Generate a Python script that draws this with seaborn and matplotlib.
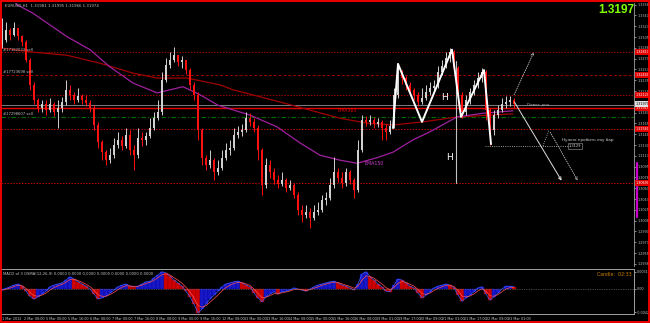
import numpy as np
import pandas as pd
import matplotlib
matplotlib.use("Agg")
import matplotlib.pyplot as plt
import seaborn as sns
from matplotlib.patches import Rectangle
from matplotlib.transforms import blended_transform_factory

# ---------------- data (EURUSD, H1-ish bars) ----------------
first_open = 1.3293
close = [1.3301, 1.3317, 1.3309, 1.3320, 1.3307, 1.3297, 1.3268, 1.3228, 1.3204, 1.3191,
         1.3197, 1.3187, 1.3197, 1.3184, 1.3191, 1.3200, 1.3220, 1.3212, 1.3204, 1.3210,
         1.3204, 1.3199, 1.3191, 1.3163, 1.3135, 1.3119, 1.3106, 1.3114, 1.3131, 1.3139,
         1.3129, 1.3147, 1.3123, 1.3114, 1.3142, 1.3139, 1.3145, 1.3158, 1.3174, 1.3184,
         1.3236, 1.3260, 1.3268, 1.3276, 1.3265, 1.3268, 1.3252, 1.3228, 1.3212, 1.3155,
         1.3110, 1.3098, 1.3106, 1.3087, 1.3093, 1.3110, 1.3123, 1.3126, 1.3147, 1.3152,
         1.3155, 1.3174, 1.3168, 1.3158, 1.3123, 1.3066, 1.3098, 1.3087, 1.3074, 1.3067,
         1.3074, 1.3061, 1.3066, 1.3050, 1.3025, 1.3017, 1.3022, 1.3012, 1.3022, 1.3025,
         1.3041, 1.3045, 1.3066, 1.3087, 1.3077, 1.3069, 1.3087, 1.3074, 1.3058, 1.3123,
         1.3171, 1.3168, 1.3171, 1.3165, 1.3168, 1.3158, 1.3152, 1.3161, 1.3212, 1.3249,
         1.3239, 1.3228, 1.3220, 1.3212, 1.3200, 1.3207, 1.3216, 1.3223, 1.3226, 1.3249,
         1.3259, 1.3272, 1.3281, 1.3255, 1.3212, 1.3184, 1.3204, 1.3216, 1.3228, 1.3239,
         1.3249, 1.3187, 1.3155, 1.3179, 1.3187, 1.3197, 1.3200, 1.3204, 1.3197]
high = [1.3336, 1.3330, 1.3320, 1.3330, 1.3317, 1.3309, 1.3301, 1.3272, 1.3233, 1.3207,
        1.3204, 1.3204, 1.3207, 1.3200, 1.3204, 1.3208, 1.3236, 1.3228, 1.3216, 1.3223,
        1.3213, 1.3212, 1.3204, 1.3195, 1.3168, 1.3139, 1.3123, 1.3126, 1.3142, 1.3152,
        1.3145, 1.3158, 1.3155, 1.3131, 1.3158, 1.3152, 1.3152, 1.3174, 1.3184, 1.3204,
        1.3249, 1.3272, 1.3281, 1.3289, 1.3276, 1.3275, 1.3268, 1.3255, 1.3233, 1.3216,
        1.3158, 1.3114, 1.3123, 1.3110, 1.3106, 1.3123, 1.3134, 1.3139, 1.3158, 1.3161,
        1.3165, 1.3184, 1.3182, 1.3174, 1.3163, 1.3126, 1.3110, 1.3106, 1.3093, 1.3082,
        1.3087, 1.3077, 1.3074, 1.3069, 1.3054, 1.3033, 1.3033, 1.3029, 1.3033, 1.3038,
        1.3050, 1.3054, 1.3077, 1.3111, 1.3093, 1.3087, 1.3093, 1.3090, 1.3077, 1.3139,
        1.3179, 1.3178, 1.3179, 1.3176, 1.3174, 1.3171, 1.3165, 1.3171, 1.3223, 1.3259,
        1.3252, 1.3242, 1.3233, 1.3223, 1.3216, 1.3223, 1.3228, 1.3233, 1.3236, 1.3259,
        1.3268, 1.3281, 1.3288, 1.3285, 1.3259, 1.3216, 1.3212, 1.3223, 1.3236, 1.3249,
        1.3255, 1.3252, 1.3191, 1.3187, 1.3195, 1.3207, 1.3210, 1.3210, 1.3207]
low = [1.3288, 1.3297, 1.3301, 1.3307, 1.3301, 1.3291, 1.3265, 1.3220, 1.3197, 1.3184,
       1.3184, 1.3179, 1.3184, 1.3178, 1.3158, 1.3184, 1.3195, 1.3204, 1.3197, 1.3200,
       1.3197, 1.3194, 1.3184, 1.3155, 1.3126, 1.3106, 1.3098, 1.3101, 1.3110, 1.3126,
       1.3123, 1.3126, 1.3114, 1.3090, 1.3110, 1.3129, 1.3131, 1.3142, 1.3155, 1.3171,
       1.3179, 1.3233, 1.3255, 1.3265, 1.3259, 1.3255, 1.3246, 1.3220, 1.3204, 1.3139,
       1.3098, 1.3090, 1.3093, 1.3074, 1.3082, 1.3090, 1.3106, 1.3114, 1.3123, 1.3142,
       1.3145, 1.3152, 1.3161, 1.3152, 1.3106, 1.3050, 1.3061, 1.3077, 1.3067, 1.3061,
       1.3064, 1.3054, 1.3058, 1.3045, 1.3017, 1.3006, 1.3012, 1.2996, 1.3009, 1.3017,
       1.3022, 1.3033, 1.3041, 1.3061, 1.3071, 1.3061, 1.3064, 1.3067, 1.3045, 1.3054,
       1.3119, 1.3161, 1.3163, 1.3158, 1.3160, 1.3139, 1.3139, 1.3148, 1.3158, 1.3207,
       1.3229, 1.3220, 1.3212, 1.3204, 1.3194, 1.3197, 1.3204, 1.3212, 1.3216, 1.3223,
       1.3244, 1.3255, 1.3265, 1.3249, 1.3195, 1.3174, 1.3179, 1.3197, 1.3212, 1.3223,
       1.3233, 1.3171, 1.3131, 1.3147, 1.3174, 1.3184, 1.3191, 1.3194, 1.3191]
macd = [-0.0002, 0.0001, 0.0004, 0.0007, 0.0009, 0.0005, -0.0004, -0.0013, -0.0018, -0.0014,
        -0.0009, -0.0004, 0.0004, 0.0007, 0.0009, 0.0011, 0.0016, 0.0022, 0.0018, 0.0013,
        0.0009, 0.0005, 0.0000, -0.0009, -0.0018, -0.0016, -0.0013, -0.0007, -0.0002, 0.0004,
        0.0007, 0.0009, 0.0005, 0.0004, 0.0005, 0.0009, 0.0013, 0.0014, 0.0020, 0.0025,
        0.0031, 0.0029, 0.0023, 0.0016, 0.0011, 0.0005, -0.0004, -0.0014, -0.0027, -0.0043,
        -0.0036, -0.0027, -0.0018, -0.0011, -0.0004, 0.0004, 0.0009, 0.0011, 0.0013, 0.0014,
        0.0011, 0.0007, 0.0004, -0.0007, -0.0016, -0.0023, -0.0014, -0.0009, -0.0005, -0.0009,
        -0.0005, -0.0004, -0.0002, 0.0002, 0.0000, -0.0002, -0.0004, 0.0000, 0.0004, 0.0007,
        0.0009, 0.0011, 0.0013, 0.0014, 0.0011, 0.0007, 0.0005, 0.0002, -0.0002, 0.0009,
        0.0027, 0.0031, 0.0022, 0.0016, 0.0009, 0.0004, -0.0004, -0.0005, 0.0007, 0.0018,
        0.0016, 0.0011, 0.0005, 0.0002, -0.0007, -0.0016, -0.0011, -0.0005, 0.0002, 0.0005,
        0.0007, 0.0009, 0.0007, 0.0002, -0.0011, -0.0022, -0.0016, -0.0011, -0.0005, 0.0002,
        0.0004, -0.0009, -0.0020, -0.0014, -0.0007, 0.0000, 0.0005, 0.0005, 0.0004]

time_labels = ["1 Mar 2012", "2 Mar 08:00", "5 Mar 00:00", "5 Mar 16:00", "6 Mar 08:00",
               "7 Mar 00:00", "7 Mar 16:00", "8 Mar 08:00", "9 Mar 00:00", "9 Mar 16:00",
               "12 Mar 08:00", "13 Mar 00:00", "13 Mar 16:00", "14 Mar 08:00", "15 Mar 00:00",
               "15 Mar 16:00", "16 Mar 08:00", "19 Mar 01:00", "19 Mar 17:00", "20 Mar 09:00",
               "21 Mar 01:00", "21 Mar 17:00", "22 Mar 09:00", "23 Mar 01:00"]
price_ticks = [1.33580, 1.33405, 1.33230, 1.33055, 1.32880, 1.32705, 1.32530, 1.32355,
               1.32180, 1.32005, 1.31830, 1.31655, 1.31480, 1.31305, 1.31130, 1.30955,
               1.30780, 1.30605, 1.30430, 1.30255, 1.30080, 1.29905, 1.29730, 1.29555, 1.29380]
macd_ticks = [0.0031, 0.0, -0.0042]
macd_tick_labels = ["0.0031", "0.00", "-0.0042"]

ema150_bar = [2, 4, 7.75, 16.25, 22, 27, 32.75, 38.75, 45.25, 49.5, 54, 62, 68.75, 74.5,
              79.5, 84.5, 88.75, 93.75, 97.75, 102.75, 107, 113.75, 120.25, 127.75]
ema150_val = [1.3369, 1.3357, 1.3344, 1.3306, 1.3285, 1.3257, 1.3231, 1.3215, 1.3225, 1.3212,
              1.3195, 1.3179, 1.3160, 1.3134, 1.3114, 1.3106, 1.3101, 1.3110, 1.3119, 1.3139,
              1.3152, 1.3176, 1.3182, 1.3186]
ema365_bar = [-0.5, 7.75, 16.25, 24.5, 32.75, 38.75, 46.25, 54.5, 57.75, 70.25, 78.75, 84.5,
              91.25, 97.75, 105.25, 113.75, 127.75]
ema365_val = [1.3288, 1.3281, 1.3276, 1.3263, 1.3247, 1.3239, 1.3239, 1.3228, 1.3220, 1.3199,
              1.3184, 1.3174, 1.3166, 1.3163, 1.3168, 1.3176, 1.3181]

pattern_bar = [97.75, 99, 105, 112.5, 114.75, 120.5, 122.25]
pattern_val = [1.3158, 1.3262, 1.3168, 1.3285, 1.3176, 1.3252, 1.3132]

order_levels = [1.3281, 1.3244, 1.3176]
order_texts = ["#17182033 sell", "#17723698 sell", "#17298607 sell"]
red_levels = [1.3281, 1.3244, 1.3212, 1.3191, 1.3156, 1.3069]
current_price = 1.3197
pivot_level = 1.3195
target_level = 1.3129

# ---------------- style ----------------
sns.set_theme(style="dark", rc={"axes.facecolor": "black", "figure.facecolor": "black",
                                "savefig.facecolor": "black", "axes.edgecolor": "#A0A0A0"})
plt.rcParams["font.family"] = ["DejaVu Sans"]

W, H = 650, 323
fig = plt.figure(figsize=(W / 100, H / 100), dpi=100)
ax = fig.add_axes([1 / W, 1 - 266 / H, 633 / W, 263 / H])
ax2 = fig.add_axes([1 / W, 1 - 314 / H, 633 / W, 45 / H])
for a in (ax, ax2):
    a.set_facecolor("black")
    a.set_xlim(-0.25, 158)
    for s in a.spines.values():
        s.set_visible(False)
    a.grid(False)

TICK_FS = 2.4

# ---------------- candles ----------------
c = np.array(close)
n = len(c)
idx = np.arange(n)
o = np.r_[first_open, c[:-1]]
hi = np.maximum(np.array(high), np.maximum(o, c))
lo = np.minimum(np.array(low), np.minimum(o, c))
bull = c >= o
ccol = np.where(bull, "#D0D0D0", "#FF1010")

# level lines
lv = dict(lw=0.7)
ax.axhline(red_levels[0], color="#A00000", ls=(0, (1.5, 1.5)), **lv)
ax.axhline(red_levels[1], color="#A00000", ls=(0, (3, 2)), **lv)
ax.axhline(red_levels[2], color="#A00000", ls=(0, (1.5, 1.5)), **lv)
ax.axhline(pivot_level, color="#909090", lw=0.6)
ax.axhline(red_levels[3], color="#E00000", lw=1.0)
ax.axhline(order_levels[2], color="#007000", ls=(0, (4, 2, 1, 2)), lw=0.8)
ax.axhline(red_levels[4], color="#C00000", ls=(0, (1.5, 1.5)), **lv)
ax.axhline(red_levels[5], color="#C00000", ls=(0, (1.5, 1.5)), **lv)

# EMAs
sns.lineplot(x=ema365_bar, y=ema365_val, ax=ax, color="#A00000", lw=0.9, sort=False)
sns.lineplot(x=ema150_bar, y=ema150_val, ax=ax, color="#A020A0", lw=0.9, sort=False)

ax.vlines(idx, lo, hi, colors=ccol, lw=0.7, zorder=3)
ax.bar(idx, c - o, bottom=o, width=0.55, color=ccol, linewidth=0, zorder=3)

# pattern zigzag & measurements
sns.lineplot(x=pattern_bar, y=pattern_val, ax=ax, color="white", lw=1.4, sort=False,
             zorder=5)
ax.plot([113.5, 113.5], [1.3266, red_levels[5]], color="#C0C0C0", lw=0.8, zorder=4)
ax.text(110.75, 1.3208, "H", color="white", fontsize=6.5, ha="center", va="center", zorder=6)
ax.text(112.0, 1.3111, "H", color="white", fontsize=6.5, ha="center", va="center", zorder=6)

# projection arrows
ax.annotate("", xy=(133.25, 1.3285), xytext=(127.75, 1.3208),
            arrowprops=dict(arrowstyle="->", color="#C8C8C8", lw=0.6, ls=":",
                            mutation_scale=5))
ax.annotate("", xy=(140.25, red_levels[5]), xytext=(127.75, 1.3204),
            arrowprops=dict(arrowstyle="->", color="#E0E0E0", lw=0.7, mutation_scale=5))
ax.plot([120.75, 141.5], [target_level, target_level], color="#C8C8C8", lw=0.6, ls=":")
ax.plot([135.25, 136.75], [target_level, 1.3155], color="#C8C8C8", lw=0.6, ls=":")
ax.annotate("", xy=(144.25, red_levels[5]), xytext=(136.75, 1.3155),
            arrowprops=dict(arrowstyle="->", color="#C8C8C8", lw=0.6, ls=":",
                            mutation_scale=5))

ax.text(140.0, 1.3139, "Нужно пробить лоу бар", color="#D0D0D0", fontsize=3.0,
        ha="left", va="center")
ax.text(141.6, target_level, "1.3129", color="#D0D0D0", fontsize=2.6, ha="left",
        va="center", bbox=dict(boxstyle="square,pad=0.2", fc="black", ec="#A0A0A0", lw=0.4))
ax.text(131.25, pivot_level + 0.0002, "Пивот дня", color="#A0A0A0", fontsize=3.0,
        ha="left", va="center")
ax.text(84.0, 1.3187, "EMA365", color="#E00000", fontsize=3.4, ha="left", va="center")
ax.text(90.75, 1.3100, "EMA150", color="#D040D0", fontsize=3.4, ha="left", va="center")

tr = blended_transform_factory(ax.transAxes, ax.transData)
for lvl, t in zip(order_levels, order_texts):
    ax.text(0.003, lvl + 0.0001, t, transform=tr, color="#C0C0C0", fontsize=2.7,
            ha="left", va="bottom")

ax.set_ylim(1.29346, 1.33606)
ax.yaxis.tick_right()
box_levels = red_levels + [current_price]
shown_ticks = [p for p in price_ticks if min(abs(p - b) for b in box_levels) > 0.0006]
ax.set_yticks(shown_ticks)
ax.set_yticklabels([f"{p:.5f}" for p in shown_ticks])
ax.tick_params(axis="y", colors="#C0C0C0", labelsize=TICK_FS, length=1.5, width=0.5, pad=0.8,
               labelcolor="#C0C0C0")
ax.set_xticks([])
ax.spines["right"].set_visible(True)
ax.spines["right"].set_color("#A0A0A0")
ax.spines["right"].set_linewidth(0.6)
ax.set_xlabel("")
ax.set_ylabel("")

# axis price boxes
for lvl in red_levels:
    ax.annotate(f"{lvl:.5f}", xy=(1.0, lvl), xycoords=tr, xytext=(1.2, 0),
                textcoords="offset points", fontsize=TICK_FS, color="white", ha="left",
                va="center", annotation_clip=False,
                bbox=dict(boxstyle="square,pad=0.3", fc="#E00000", ec="none"))
ax.annotate(f"{current_price:.5f}", xy=(1.0, current_price), xycoords=tr, xytext=(1.2, 0),
            textcoords="offset points", fontsize=TICK_FS, color="black", ha="left",
            va="center", annotation_clip=False,
            bbox=dict(boxstyle="square,pad=0.3", fc="#E0E0E0", ec="none"))
ax.plot([1.004, 1.004], [1.3101, 1.3014], transform=tr, clip_on=False, color="#CC00CC",
        lw=1.6)

# ---------------- MACD panel ----------------
m = np.array(macd)
rising = np.diff(np.r_[m[0], m]) >= 0
mcol = np.where(rising, "#1818C8", "#D00000")
ax2.bar(idx, m, width=0.95, color=mcol, edgecolor=np.where(rising, "#0000A0", "#900000"),
        linewidth=0.3)
sig = pd.Series(m).ewm(span=3, adjust=False).mean()
sns.lineplot(x=idx, y=m, ax=ax2, color="#4060FF", lw=0.5)
sns.lineplot(x=idx, y=sig.values, ax=ax2, color="#FF5050", lw=0.5)
ax2.axhline(0, color="#808080", lw=0.5, ls=(0, (1, 1.5)))
ax2.set_ylim(-0.0045, 0.0036)
ax2.yaxis.tick_right()
ax2.set_yticks(macd_ticks)
ax2.set_yticklabels(macd_tick_labels)
ax2.set_xticks(np.arange(len(time_labels)) * 5.5)
ax2.set_xticklabels(time_labels, ha="left")
ax2.tick_params(axis="both", colors="#C0C0C0", labelsize=TICK_FS, length=1.5, width=0.5,
                pad=0.8, labelcolor="#C0C0C0")
for s in ("top", "bottom", "right"):
    ax2.spines[s].set_visible(True)
    ax2.spines[s].set_color("#A0A0A0")
    ax2.spines[s].set_linewidth(0.7)
ax2.set_xlabel("")
ax2.set_ylabel("")
ax2.text(0.003, 0.93, "MACD of 3 OSMA(12,26,9) 0.0000 0.0000 0.0000 0.0000 0.0000 0.0000 0.0000",
         transform=ax2.transAxes, color="#C0C0C0", fontsize=2.7, ha="left", va="top")
ax2.text(0.997, 0.93, "Candle:  02:33", transform=ax2.transAxes, color="#D08000",
         fontsize=3.4, ha="right", va="top")

# header & big price
fig.text(5 / W, 1 - 6 / H, "EURUSD,H1  1.31981 1.31995 1.31966 1.31974", color="#C0C0C0",
         fontsize=2.8, ha="left", va="center")
fig.text(634 / W, 1 - 4 / H, f"{current_price:.4f}", color="#80FF00", fontsize=8.5,
         fontweight="bold", family="Liberation Sans", ha="right", va="top")

# window frame
fig.add_artist(Rectangle((0.6 / W, 1.2 / H), (W - 1.8) / W, (H - 2.6) / H, fill=False,
                         ec="#FF0000", lw=1.3, transform=fig.transFigure))

fig.savefig("out.png", dpi=100, facecolor="black")
